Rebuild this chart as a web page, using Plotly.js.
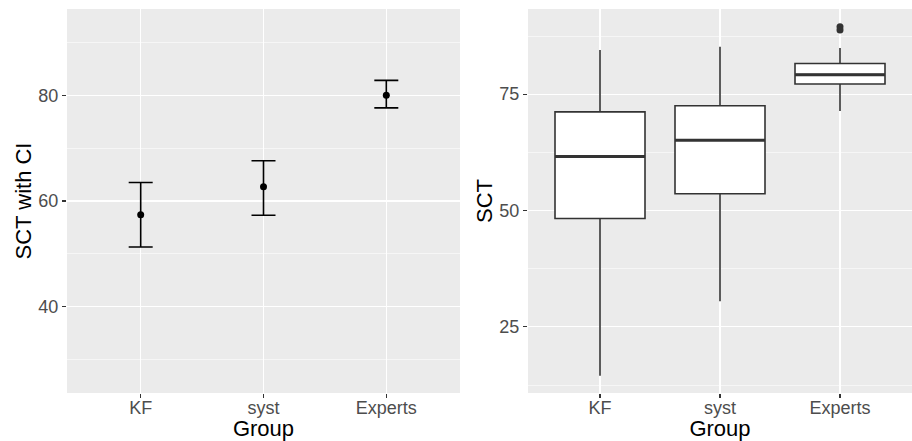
<!DOCTYPE html>
<html>
<head>
<meta charset="utf-8">
<script src="https://cdn.plot.ly/plotly-3.0.1.min.js"></script>
<style>html,body{margin:0;padding:0;background:#fff;}#chart{width:912px;height:441px;}</style>
</head>
<body>
<div id="chart"></div>
<script>
const groups = ["KF", "syst", "Experts"];
// Left panel: mean with confidence interval
const ciMean = [57.4, 62.7, 80.0];
const ciUpper = [63.5, 67.6, 82.8];
const ciLower = [51.3, 57.3, 77.6];
// Right panel: box plot statistics
const boxLowerFence = [14.5, 30.5, 71.4];
const boxQ1 = [48.3, 53.6, 77.2];
const boxMedian = [61.6, 65.1, 79.2];
const boxQ3 = [71.2, 72.5, 81.6];
const boxUpperFence = [84.5, 85.2, 84.9];
const outlierGroup = ["Experts", "Experts"];
const outlierValue = [89.5, 88.8];

const FONT = "Liberation Sans, Arial, Helvetica, sans-serif";

const traces = [
  {
    type: "scatter", mode: "markers", x: groups, y: ciMean,
    xaxis: "x", yaxis: "y",
    marker: {color: "#000000", size: 7},
    error_y: {
      type: "data", symmetric: false,
      array: ciUpper.map((u, i) => u - ciMean[i]),
      arrayminus: ciMean.map((m, i) => m - ciLower[i]),
      color: "#000000", thickness: 1.6, width: 12
    },
    hoverinfo: "skip", showlegend: false
  },
  {
    type: "box", x: groups, xaxis: "x2", yaxis: "y2",
    q1: boxQ1, median: boxMedian, q3: boxQ3,
    lowerfence: boxLowerFence, upperfence: boxUpperFence,
    width: 0.75, whiskerwidth: 0,
    fillcolor: "#ffffff", line: {color: "#333333", width: 1.6},
    boxpoints: false, hoverinfo: "skip", showlegend: false
  },
  {
    // thicker median line (ggplot style)
    type: "box", x: groups, xaxis: "x2", yaxis: "y2",
    q1: boxMedian, median: boxMedian, q3: boxMedian,
    lowerfence: boxMedian, upperfence: boxMedian,
    width: 0.75, whiskerwidth: 0,
    fillcolor: "rgba(0,0,0,0)", line: {color: "#333333", width: 3},
    boxpoints: false, hoverinfo: "skip", showlegend: false
  },
  {
    type: "scatter", mode: "markers", x: outlierGroup, y: outlierValue,
    xaxis: "x2", yaxis: "y2",
    marker: {color: "#333333", size: 7},
    hoverinfo: "skip", showlegend: false
  }
];

const xCommon = {
  type: "category", categoryorder: "array", categoryarray: groups,
  range: [-0.6, 2.6], showgrid: true, gridcolor: "#ffffff", gridwidth: 1.1,
  zeroline: false, showline: false,
  ticks: "outside", ticklen: 4, tickwidth: 1.1, tickcolor: "#333333",
  ticklabelstandoff: -6,
  tickfont: {family: FONT, size: 18, color: "#4d4d4d"},
  title: {text: "Group", font: {family: FONT, size: 22, color: "#000000"}, standoff: 3},
  fixedrange: true
};
const yCommon = {
  showgrid: true, gridcolor: "#ffffff", gridwidth: 1.1,
  zeroline: false, showline: false,
  ticks: "outside", ticklen: 4, tickwidth: 1.1, tickcolor: "#333333",
  tickfont: {family: FONT, size: 18, color: "#4d4d4d"},
  fixedrange: true
};

const layout = {
  width: 912, height: 441,
  margin: {l: 0, r: 0, t: 0, b: 0},
  paper_bgcolor: "#ffffff", plot_bgcolor: "#ebebeb",
  showlegend: false,
  xaxis: Object.assign({}, xCommon, {domain: [67/912, 460/912], anchor: "y"}),
  yaxis: Object.assign({}, yCommon, {
    domain: [1 - 393/441, 1 - 9/441], anchor: "x",
    range: [23.7, 96.3], tickmode: "array", tickvals: [40, 60, 80],
    minor: {tickmode: "array", tickvals: [30, 50, 70, 90], showgrid: true, gridcolor: "#ffffff", gridwidth: 0.55},
    title: {text: "SCT with CI", font: {family: FONT, size: 22, color: "#000000"}, standoff: 0}
  }),
  xaxis2: Object.assign({}, xCommon, {domain: [528/912, 1], anchor: "y2"}),
  yaxis2: Object.assign({}, yCommon, {
    domain: [1 - 393/441, 1 - 9/441], anchor: "x2",
    range: [10.8, 93.3], tickmode: "array", tickvals: [25, 50, 75],
    minor: {tickmode: "array", tickvals: [12.5, 37.5, 62.5, 87.5], showgrid: true, gridcolor: "#ffffff", gridwidth: 0.55},
    title: {text: "SCT", font: {family: FONT, size: 22, color: "#000000"}, standoff: 0}
  })
};

Plotly.newPlot("chart", traces, layout, {displayModeBar: false, staticPlot: true});
</script>
</body>
</html>
